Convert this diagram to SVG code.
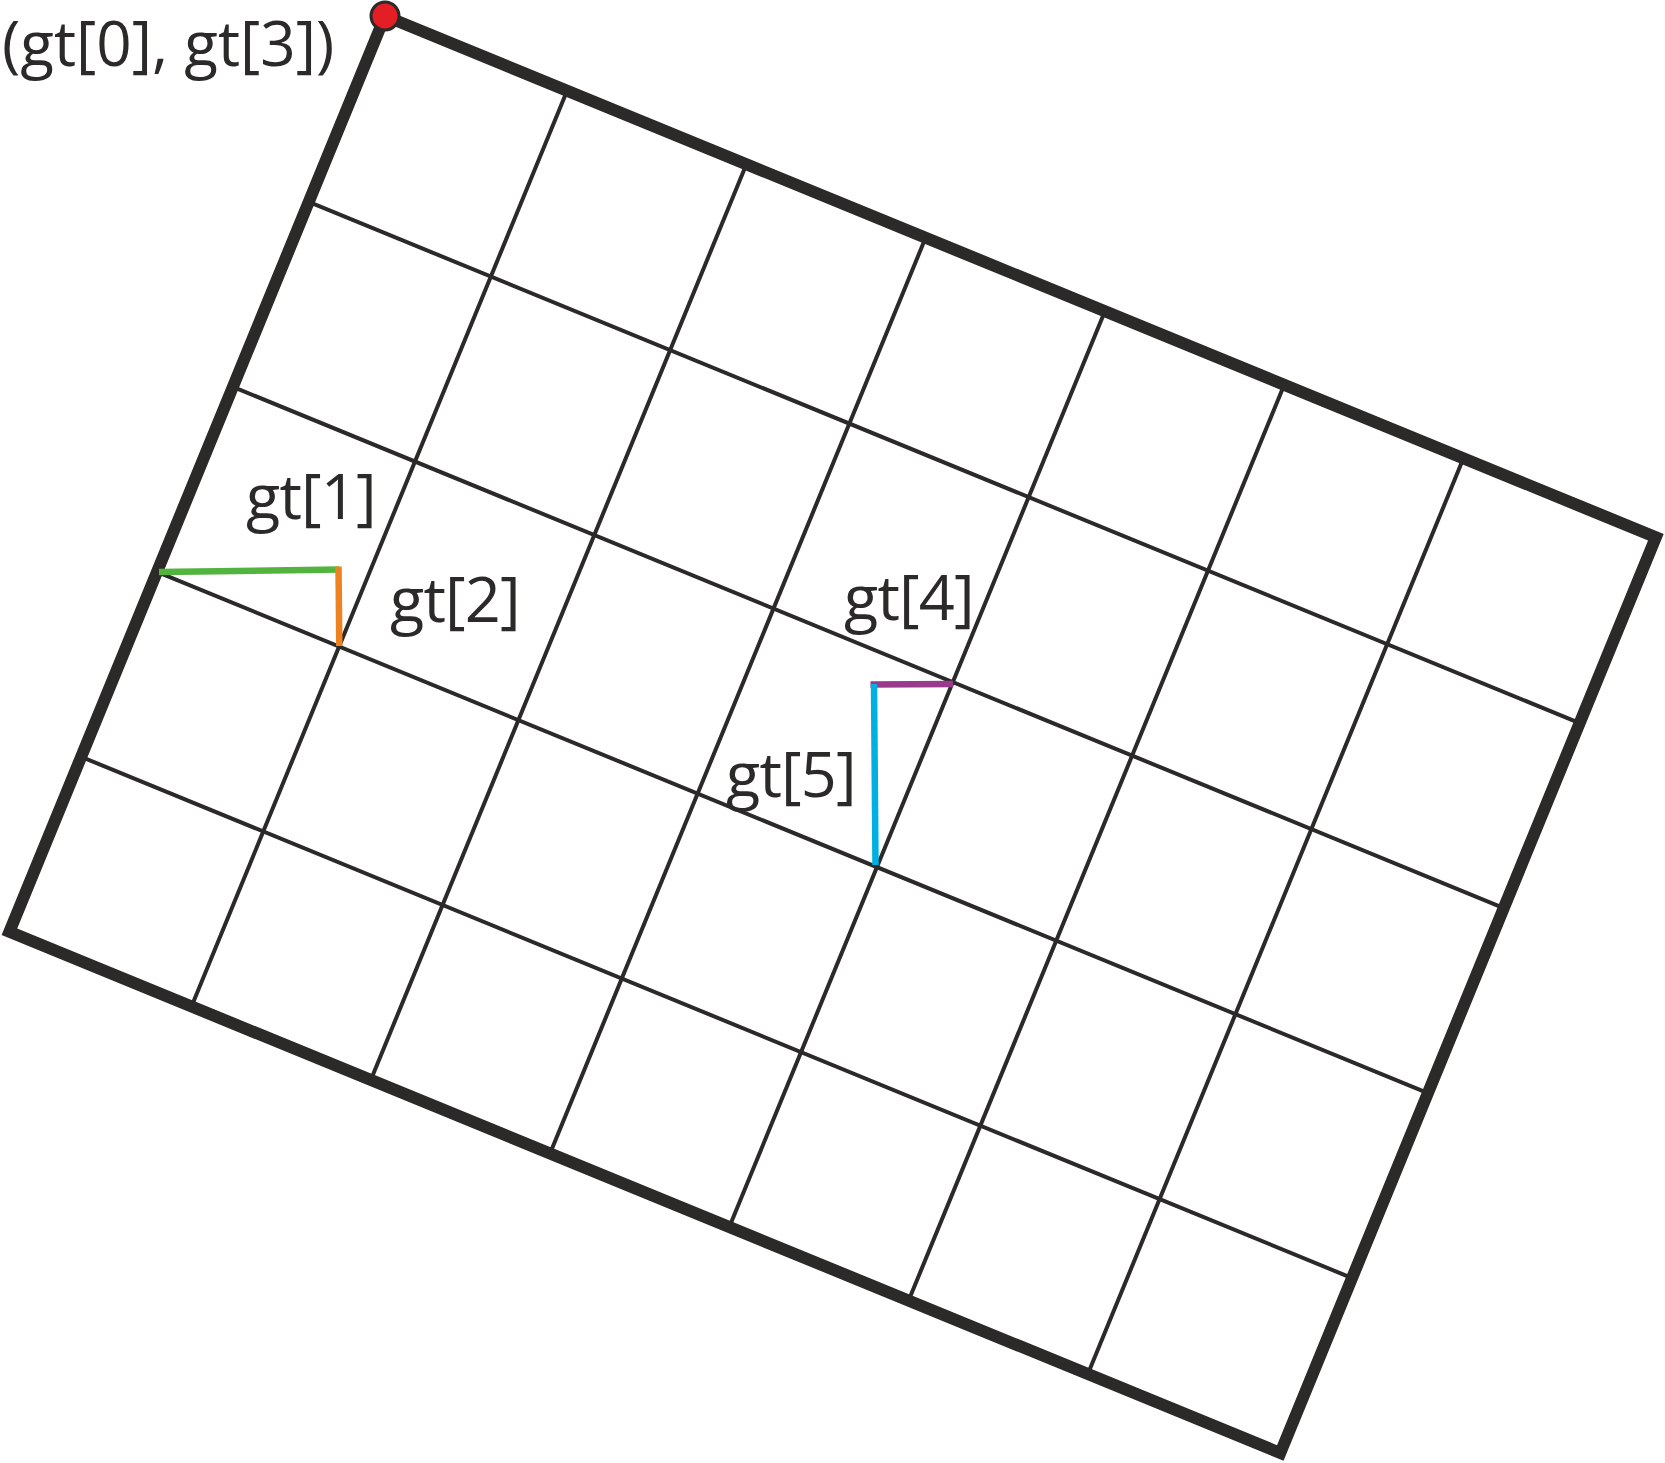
<svg xmlns="http://www.w3.org/2000/svg" width="1665" height="1463" viewBox="0 0 1665 1463">
  <style>
    .frame { fill: none; stroke: #2b2a29; stroke-width: 12; stroke-linejoin: miter; }
    .grid { fill: none; stroke: #2b2a29; stroke-width: 4; }
    .lbl { font-family: "Open Sans", "Liberation Sans", sans-serif; font-size: 63px; fill: #2b2a29; }
    .short { letter-spacing: -0.8px; }
    .seg { fill: none; stroke-width: 6.5; stroke-linecap: butt; }
  </style>
  <rect x="0" y="0" width="1665" height="1463" fill="#ffffff"/>
  <g id="grid" transform="translate(385,16) rotate(22.3)">
    <g id="grid-lines" class="grid">
      <line x1="196.8" y1="0" x2="196.8" y2="989.8"/>
      <line x1="390.6" y1="0" x2="390.6" y2="989.8"/>
      <line x1="584.3" y1="0" x2="584.3" y2="989.8"/>
      <line x1="778.1" y1="0" x2="778.1" y2="989.8"/>
      <line x1="971.9" y1="0" x2="971.9" y2="989.8"/>
      <line x1="1165.6" y1="0" x2="1165.6" y2="989.8"/>
      <line x1="0" y1="200.9" x2="1373.6" y2="200.9"/>
      <line x1="0" y1="400.8" x2="1373.6" y2="400.8"/>
      <line x1="0" y1="600.8" x2="1373.6" y2="600.8"/>
      <line x1="0" y1="800.7" x2="1373.6" y2="800.7"/>
    </g>
    <rect id="frame" class="frame" x="0" y="0" width="1373.6" height="989.8"/>
  </g>
  <g id="offsets">
    <line id="seg-gt1" class="seg" stroke="#52b43f" x1="159" y1="572" x2="339" y2="569.5"/>
    <line id="seg-gt2" class="seg" stroke="#ef8220" x1="338.5" y1="566.5" x2="339.3" y2="646"/>
    <line id="seg-gt4" class="seg" stroke="#9a3a8c" x1="870.5" y1="684.5" x2="953" y2="684"/>
    <line id="seg-gt5" class="seg" stroke="#00b0e3" x1="874" y1="684" x2="875.5" y2="865"/>
  </g>
  <g id="origin">
    <circle cx="385" cy="16" r="14" fill="#e31e25" stroke="#2b2a29" stroke-width="3"/>
  </g>
  <g id="labels">
    <text x="2" y="66" font-family="Open Sans, Liberation Sans, sans-serif" font-size="62" fill="#2b2a29">(gt[0], gt[3])</text>
    <text class="lbl short" x="246" y="519">gt[1]</text>
    <text class="lbl short" x="390" y="621.5">gt[2]</text>
    <text class="lbl short" x="844" y="620">gt[4]</text>
    <text class="lbl short" x="726" y="796.5">gt[5]</text>
  </g>
</svg>
